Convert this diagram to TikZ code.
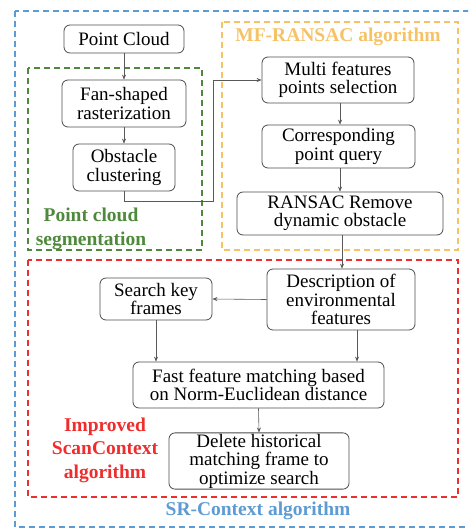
\documentclass[tikz,border=0pt]{standalone}
\usepackage{fontspec}
\setmainfont{Liberation Serif}
\usetikzlibrary{arrows.meta}
\definecolor{segGreen}{HTML}{4F8A3C}
\definecolor{ransacOrange}{HTML}{F6C266}
\definecolor{scanRed}{HTML}{EE2D2D}
\definecolor{srBlue}{HTML}{5C9BD3}

\tikzset{
  proc/.style={draw=black!70, rounded corners=6pt, align=center, inner sep=1pt, line width=0.8pt},
  arr/.style={-{Stealth[length=5pt,width=4pt]}, draw=black!65, line width=0.6pt},
  region/.style={dash pattern=on 6pt off 4pt, line width=1.2pt},
  grouplabel/.style={font=\rmfamily\fontsize{19.5}{23.5}\selectfont\bfseries, align=center},
}

\begin{document}
\begin{tikzpicture}[x=1pt, y=-1pt, font=\rmfamily\fontsize{19}{18.5}\selectfont]
    \useasboundingbox (0,0) rectangle (468,529);
    \clip (0,0) rectangle (468,529);
    % dashed regions
    \draw[region, srBlue] (15,11) rectangle (476,527);
    \draw[region, segGreen] (28,68) rectangle (202,250);
    \draw[region, ransacOrange] (222,22) rectangle (458,250);
    \draw[region, scanRed] (28,260) rectangle (458,497);
    % region labels
    \node[grouplabel, segGreen] (seglabel) at (91,229) {Point cloud\\segmentation};
    \node[grouplabel, ransacOrange] (ransaclabel) at (338,37) {MF-RANSAC algorithm};
    \node[grouplabel, scanRed] (scanlabel) at (105,450) {Improved\\ScanContext\\algorithm};
    \node[grouplabel, srBlue] (srlabel) at (258,511) {SR-Context algorithm};
    % point cloud segmentation
    \node[proc, minimum width=120pt, minimum height=28pt] (cloud) at (124,39) {Point Cloud};
    \node[proc, minimum width=124pt, minimum height=47pt] (fan) at (124,103.5) {Fan-shaped\\rasterization};
    \node[proc, minimum width=102pt, minimum height=47pt] (cluster) at (124,167.5) {Obstacle\\clustering};
    % MF-RANSAC
    \node[proc, minimum width=152pt, minimum height=46pt] (multi) at (338,80) {Multi features\\points selection};
    \node[proc, minimum width=153pt, minimum height=43pt] (query) at (338.5,146.5) {Corresponding\\point query};
    \node[proc, minimum width=206pt, minimum height=43pt] (remove) at (340,213.5) {RANSAC Remove\\dynamic obstacle};
    % improved ScanContext
    \node[proc, minimum width=148pt, minimum height=61pt] (desc) at (341,299.5) {Description of\\environmental\\features};
    \node[proc, minimum width=112pt, minimum height=42pt] (keyframe) at (156,299) {Search key\\frames};
    \node[proc, minimum width=251pt, minimum height=46pt] (match) at (258.5,385) {Fast feature matching based\\on Norm-Euclidean distance};
    \node[proc, minimum width=180pt, minimum height=56pt] (delete) at (259,461) {Delete historical\\matching frame to\\optimize search};
    \coordinate (bendlow) at (213,201);
    % connectors
    \draw[arr] (cloud) -- (fan);
    \draw[arr] (fan) -- (cluster);
    \draw[arr] (cluster.south) |- (bendlow) |- (multi.west);
    \draw[arr] ([xshift=2pt]multi.south) -- ([xshift=2pt]multi.south |- query.north);
    \draw[arr] ([xshift=1.5pt]query.south) -- ([xshift=1.5pt]query.south |- remove.north);
    \draw[arr] ([xshift=2pt]remove.south) -- ([xshift=2pt]remove.south |- desc.north);
    \draw[arr] (desc.west) -- (keyframe.east);
    \draw[arr] (keyframe.south) -- (keyframe.south |- match.north);
    \draw[arr] ([xshift=16pt]desc.south) -- ([xshift=16pt]desc.south |- match.north);
    \draw[arr] (match.south) -- (delete.north);
\end{tikzpicture}
\end{document}
